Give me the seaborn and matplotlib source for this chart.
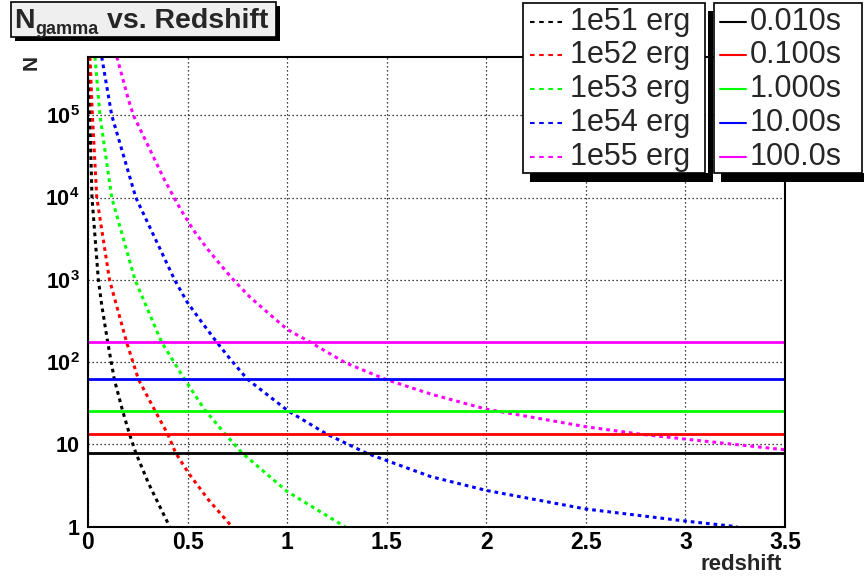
import matplotlib
matplotlib.use("Agg")
import matplotlib.pyplot as plt
import numpy as np
import pandas as pd
import seaborn as sns
from matplotlib.patches import Rectangle
from matplotlib.lines import Line2D
from matplotlib.ticker import FixedLocator, MultipleLocator, NullFormatter, LogLocator

# ---------------- data ----------------
energy_labels = ["1e51 erg", "1e52 erg", "1e53 erg", "1e54 erg", "1e55 erg"]
duration_labels = ["0.010s", "0.100s", "1.000s", "10.00s", "100.0s"]
series_colors = ["#000000", "#ff0000", "#00ff00", "#0000ff", "#ff00ff"]

z_1e51 = [0.004, 0.009, 0.02, 0.052, 0.069, 0.099, 0.132, 0.174, 0.208, 0.24, 0.303, 0.41]
n_1e51 = [5.1e5, 1e5, 1e4, 1000, 490, 174, 62, 25.5, 13.4, 7.9, 3.4, 1.0]

z_1e52 = [0.01, 0.022, 0.044, 0.108, 0.194, 0.253, 0.337, 0.40, 0.44, 0.505, 0.605, 0.723]
n_1e52 = [5.1e5, 1e5, 1e4, 1000, 174, 62, 25.5, 13.4, 7.9, 4.47, 2.12, 1.0]

z_1e53 = [0.035, 0.06, 0.119, 0.236, 0.37, 0.485, 0.585, 0.69, 0.773, 1.0, 1.29]
n_1e53 = [5.1e5, 1e5, 1e4, 1000, 174, 62, 26.5, 13.3, 7.9, 2.68, 1.0]

z_1e54 = [0.069, 0.119, 0.24, 0.435, 0.496, 0.563, 0.647, 0.714, 0.80, 1.005,
          1.2, 1.40, 1.72, 2.0, 2.5, 3.0, 3.26]
n_1e54 = [5.1e5, 1e5, 1e4, 1000, 545, 325, 174, 109, 62, 25.5,
          13.3, 7.8, 4.07, 2.76, 1.64, 1.17, 1.0]

z_1e55 = [0.145, 0.203, 0.228, 0.303, 0.378, 0.432, 0.462, 0.529, 0.605, 0.677, 0.73,
          0.815, 1.0, 1.117, 1.293, 1.494, 1.72, 2.0, 2.5, 2.775, 3.0, 3.5]
n_1e55 = [5.1e5, 1.55e5, 1e5, 4.2e4, 1.75e4, 1.0e4, 7.4e3, 4.03e3, 2.29e3, 1.41e3, 1.0e3,
          610, 250, 174, 98, 61.8, 41, 26.8, 16.4, 13.3, 11.6, 8.6]

threshold_n = [7.8, 13.3, 25.5, 61.8, 174.0]
z_span = [0.0, 3.5]

x_ticks = [0, 0.5, 1, 1.5, 2, 2.5, 3, 3.5]
x_tick_labels = ["0", "0.5", "1", "1.5", "2", "2.5", "3", "3.5"]
y_ticks = [1, 10, 100, 1e3, 1e4, 1e5]
y_tick_labels = ["1", "10", r"$\mathbf{10^{2}}$", r"$\mathbf{10^{3}}$",
                 r"$\mathbf{10^{4}}$", r"$\mathbf{10^{5}}$"]
y_lim = (1.0, 5.1e5)
x_lim = (0.0, 3.5)

curve_z = [z_1e51, z_1e52, z_1e53, z_1e54, z_1e55]
curve_n = [n_1e51, n_1e52, n_1e53, n_1e54, n_1e55]

rows = []
for lab, zs, ns in zip(energy_labels, curve_z, curve_n):
    for zv, nv in zip(zs, ns):
        rows.append({"z": zv, "N": nv, "energy": lab})
df_curves = pd.DataFrame(rows)

hrows = []
for lab, nv in zip(duration_labels, threshold_n):
    for zv in z_span:
        hrows.append({"z": zv, "N": nv, "duration": lab})
df_h = pd.DataFrame(hrows)

# ---------------- style ----------------
sns.set_theme(style="white")
plt.rcParams["font.family"] = ["Liberation Sans", "DejaVu Sans"]
plt.rcParams["mathtext.fontset"] = "custom"
plt.rcParams["mathtext.rm"] = "Liberation Sans"
plt.rcParams["mathtext.bf"] = "Liberation Sans:bold"
plt.rcParams["mathtext.it"] = "Liberation Sans:italic"

W, H = 864, 582
fig = plt.figure(figsize=(W / 100, H / 100), dpi=100)
fig.patch.set_facecolor("white")

def fx(x):
    return x / W

def fy(y):
    return 1 - y / H

ax_l, ax_r, ax_t, ax_b = 88, 785, 57, 526.7
ax = fig.add_axes([fx(ax_l), fy(ax_b), (ax_r - ax_l) / W, (ax_b - ax_t) / H])
ax.set_facecolor("white")

pal_e = dict(zip(energy_labels, series_colors))
pal_d = dict(zip(duration_labels, series_colors))

sns.lineplot(data=df_curves, x="z", y="N", hue="energy", style="energy",
             palette=pal_e, dashes={e: (1.2, 1.3) for e in energy_labels},
             linewidth=2.2, sort=False, estimator=None, legend=False, ax=ax, zorder=3)
sns.lineplot(data=df_h, x="z", y="N", hue="duration", palette=pal_d,
             linewidth=2.0, sort=False, estimator=None, legend=False, ax=ax, zorder=4)

ax.set_yscale("log")
ax.set_xlim(*x_lim)
ax.set_ylim(*y_lim)
ax.set_xlabel("")
ax.set_ylabel("")

ax.xaxis.set_major_locator(FixedLocator(x_ticks))
ax.set_xticklabels(x_tick_labels, fontsize=16.5, fontweight="bold")
ax.xaxis.set_minor_locator(MultipleLocator(0.1))
ax.yaxis.set_major_locator(FixedLocator(y_ticks))
ax.set_yticklabels(y_tick_labels, fontsize=15.5, fontweight="bold")
ax.yaxis.set_minor_locator(LogLocator(base=10, subs=np.arange(2, 10)))
ax.yaxis.set_minor_formatter(NullFormatter())

ax.tick_params(axis="both", which="both", direction="in", top=False, right=False,
               colors="black", width=1.2)
ax.tick_params(axis="y", which="major", length=14, pad=6)
ax.tick_params(axis="y", which="minor", length=7)
ax.tick_params(axis="x", which="major", length=9, pad=3)
ax.tick_params(axis="x", which="minor", length=4.5)

ax.grid(True, which="major", color="black", linestyle=(0, (1, 2.2)), linewidth=0.9)
for s in ax.spines.values():
    s.set_color("black")
    s.set_linewidth(1.5)
    s.set_zorder(6)

# axis titles
fig.text(fx(31), fy(63), "N", rotation=90, ha="center", va="center",
         fontsize=15, fontweight="bold")
fig.text(fx(782), fy(565), "redshift", ha="right", va="center",
         fontsize=16, fontweight="bold")

# ---------------- title box ----------------
def frect(x0, y0, x1, y1, **kw):
    r = Rectangle((fx(x0), fy(y1)), (x1 - x0) / W, (y1 - y0) / H,
                  transform=fig.transFigure, **kw)
    fig.add_artist(r)
    return r

frect(15, 6, 280, 41, facecolor="black", edgecolor="none", zorder=10)
frect(11, 2, 276, 37, facecolor="#efefef", edgecolor="black", linewidth=1.2, zorder=11)
fig.text(fx(14), fy(27.5), "N", ha="left", va="baseline", fontsize=20.5,
         fontweight="bold", zorder=12)
fig.text(fx(35), fy(34), "gamma", ha="left", va="baseline", fontsize=13,
         fontweight="bold", zorder=12)
fig.text(fx(107), fy(27.5), "vs. Redshift", ha="left", va="baseline", fontsize=20.5,
         fontweight="bold", zorder=12)

# ---------------- legends ----------------
row_y = [22, 55, 89, 123, 157]

def legend_box(x0, y0, x1, y1):
    frect(x1 + 3, y0 + 8, x1 + 8, y1 + 9, facecolor="black", edgecolor="none", zorder=10)
    frect(x0 + 7, y1, x1 + 8, y1 + 9, facecolor="black", edgecolor="none", zorder=10)
    frect(x0, y0, x1, y1, facecolor="white", edgecolor="black", linewidth=1.2, zorder=11)

legend_box(523, 3, 705, 173)
for lab, col, yy in zip(energy_labels, series_colors, row_y):
    fig.add_artist(Line2D([fx(530), fx(562)], [fy(yy), fy(yy)], color=col,
                          linewidth=1.5, linestyle=(0, (2.2, 2.2)),
                          transform=fig.transFigure, zorder=12))
    fig.text(fx(570), fy(yy), lab, ha="left", va="center", fontsize=22, zorder=12)

legend_box(714, 3, 862, 173)
for lab, col, yy in zip(duration_labels, series_colors, row_y):
    fig.add_artist(Line2D([fx(720), fx(746)], [fy(yy), fy(yy)], color=col,
                          linewidth=1.5, transform=fig.transFigure, zorder=12))
    fig.text(fx(750), fy(yy), lab, ha="left", va="center", fontsize=22, zorder=12)

fig.savefig("out.png", dpi=100)
